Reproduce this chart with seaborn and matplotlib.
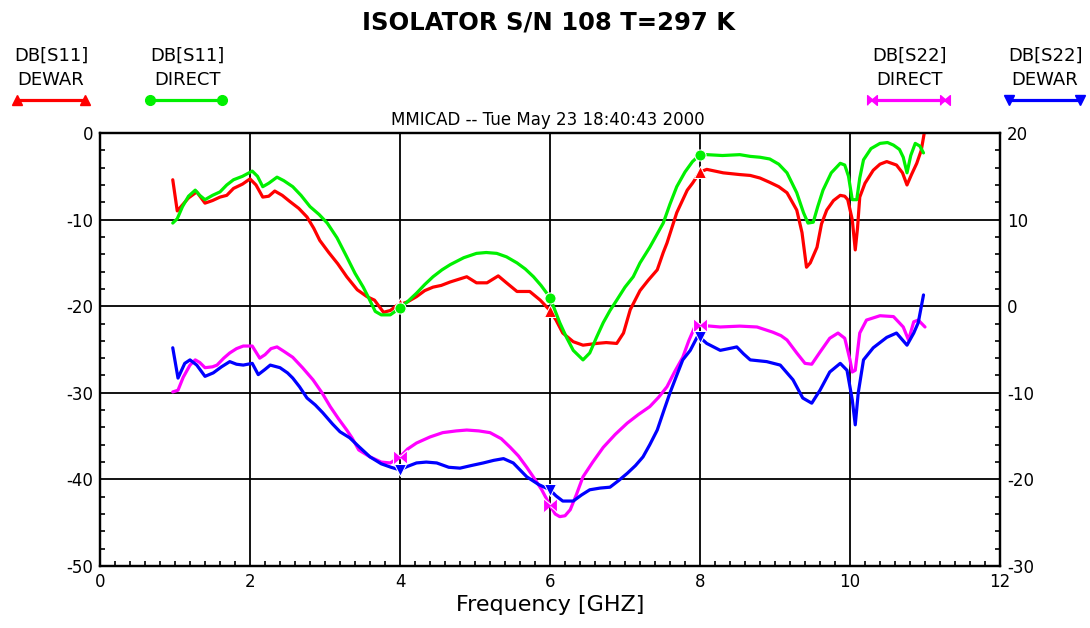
import numpy as np
import pandas as pd
import matplotlib
matplotlib.use("Agg")
import matplotlib.pyplot as plt
from matplotlib.lines import Line2D
from matplotlib.ticker import MultipleLocator
import seaborn as sns

# ---------------- data ----------------
s11_dewar_f = [0.97, 1.03, 1.1, 1.18, 1.29, 1.4, 1.5, 1.6, 1.69, 1.78, 1.9, 2.0, 2.08, 2.17, 2.25, 2.33,
               2.43, 2.53, 2.65, 2.76, 2.85, 2.93, 3.05, 3.17, 3.29, 3.43, 3.56, 3.66, 3.78, 3.87, 3.96, 4.0,
               4.1, 4.22, 4.33, 4.44, 4.55, 4.67, 4.78, 4.89, 5.02, 5.16, 5.31, 5.42, 5.56, 5.65, 5.73, 5.87,
               6.0, 6.08, 6.17, 6.31, 6.44, 6.62, 6.75, 6.89, 6.98, 7.07, 7.2, 7.31, 7.43, 7.51, 7.56, 7.69,
               7.83, 7.9, 8.0, 8.09, 8.2, 8.31, 8.53, 8.67, 8.8, 8.93, 9.05, 9.16, 9.29, 9.36, 9.42, 9.47,
               9.56, 9.62, 9.69, 9.78, 9.87, 9.93, 9.97, 10.03, 10.07, 10.1, 10.13, 10.2, 10.31, 10.4, 10.49,
               10.62, 10.7, 10.76, 10.82, 10.89, 10.95, 10.99]
s11_dewar_db = [-5.4, -9.0, -8.3, -7.5, -6.8, -8.1, -7.8, -7.4, -7.2, -6.4, -5.9, -5.3, -6.0, -7.4, -7.3, -6.7,
                -7.2, -7.9, -8.7, -9.7, -11.0, -12.4, -13.8, -15.1, -16.6, -18.1, -18.9, -19.3, -20.7, -20.5, -19.9, -19.8,
                -19.5, -18.9, -18.2, -17.8, -17.6, -17.2, -16.9, -16.6, -17.3, -17.3, -16.5, -17.3, -18.3, -18.3, -18.3, -19.3,
                -20.5, -21.6, -23.1, -24.1, -24.5, -24.3, -24.2, -24.3, -23.1, -20.4, -18.2, -17.0, -15.8, -13.8, -12.7, -9.2,
                -6.6, -5.8, -4.5, -4.2, -4.4, -4.6, -4.8, -4.9, -5.2, -5.7, -6.2, -6.9, -8.9, -11.5, -15.5, -15.0,
                -13.2, -10.5, -8.9, -7.8, -7.2, -7.3, -7.7, -10.0, -13.5, -11.0, -7.4, -5.8, -4.3, -3.6, -3.3,
                -3.7, -4.6, -6.0, -4.8, -3.5, -2.0, 0.0]

s11_direct_f = [0.97, 1.03, 1.1, 1.18, 1.27, 1.33, 1.4, 1.5, 1.6, 1.69, 1.78, 1.9, 2.03, 2.1, 2.17, 2.25,
                2.36, 2.45, 2.57, 2.68, 2.8, 2.92, 3.03, 3.16, 3.29, 3.4, 3.51, 3.58, 3.67, 3.75, 3.87, 4.0,
                4.11, 4.22, 4.33, 4.44, 4.56, 4.67, 4.85, 5.02, 5.15, 5.29, 5.42, 5.56, 5.67, 5.78, 5.88, 6.0,
                6.13, 6.22, 6.31, 6.44, 6.53, 6.62, 6.71, 6.8, 6.89, 7.0, 7.11, 7.2, 7.33, 7.42, 7.51, 7.6,
                7.69, 7.8, 7.9, 8.0, 8.09, 8.3, 8.53, 8.67, 8.8, 8.93, 9.05, 9.16, 9.29, 9.38, 9.44, 9.51,
                9.57, 9.64, 9.75, 9.87, 9.93, 9.98, 10.03, 10.09, 10.13, 10.18, 10.28, 10.4, 10.5, 10.58, 10.66,
                10.71, 10.76, 10.81, 10.87, 10.93, 10.98]
s11_direct_db = [-10.4, -9.9, -8.5, -7.3, -6.6, -7.2, -7.7, -7.2, -6.8, -6.0, -5.4, -5.0, -4.4, -5.0, -6.2, -5.8,
                 -5.1, -5.5, -6.2, -7.2, -8.5, -9.4, -10.4, -12.1, -14.3, -16.2, -17.8, -19.0, -20.6, -21.0, -21.0, -20.2,
                 -19.4, -18.5, -17.5, -16.6, -15.8, -15.2, -14.4, -13.9, -13.8, -13.9, -14.3, -15.0, -15.7, -16.6, -17.6, -19.0,
                 -21.9, -23.6, -25.1, -26.2, -25.4, -23.6, -21.9, -20.5, -19.3, -17.8, -16.6, -15.0, -13.2, -11.8, -10.4, -8.2,
                 -6.2, -4.5, -3.3, -2.5, -2.5, -2.6, -2.5, -2.7, -2.8, -3.0, -3.6, -4.6, -6.9, -9.2, -10.4, -10.3,
                 -8.5, -6.6, -4.6, -3.5, -3.7, -5.0, -7.7, -7.7, -5.2, -3.1, -1.8, -1.2, -1.1, -1.4, -1.9,
                 -2.8, -4.6, -2.6, -1.2, -1.5, -2.3]

# S22 traces, read on the right-hand scale
s22_direct_f = [0.97, 1.04, 1.11, 1.2, 1.27, 1.33, 1.4, 1.5, 1.56, 1.65, 1.73, 1.82, 1.91, 2.03, 2.08, 2.13,
                2.2, 2.28, 2.36, 2.45, 2.57, 2.7, 2.84, 2.96, 3.07, 3.18, 3.29, 3.36, 3.45, 3.6, 3.75, 3.87,
                4.0, 4.1, 4.22, 4.4, 4.57, 4.75, 4.89, 5.05, 5.2, 5.35, 5.47, 5.58, 5.69, 5.8, 5.89, 6.0,
                6.07, 6.13, 6.2, 6.27, 6.35, 6.44, 6.57, 6.71, 6.87, 7.03, 7.18, 7.33, 7.45, 7.56, 7.66, 7.77,
                7.85, 7.93, 8.0, 8.27, 8.53, 8.76, 8.97, 9.08, 9.16, 9.29, 9.4, 9.49, 9.6, 9.73, 9.84, 9.93,
                10.0, 10.03, 10.07, 10.13, 10.22, 10.4, 10.58, 10.71, 10.78, 10.85, 10.91, 11.0]
s22_direct_db = [-9.9, -9.7, -8.2, -6.8, -6.2, -6.5, -7.1, -7.0, -6.8, -6.0, -5.4, -4.9, -4.6, -4.6, -5.3, -6.0,
                 -5.6, -4.9, -4.7, -5.2, -5.9, -7.1, -8.5, -10.0, -11.6, -13.0, -14.3, -15.2, -16.6, -17.4, -18.0, -18.1,
                 -17.4, -16.5, -15.8, -15.1, -14.6, -14.4, -14.3, -14.4, -14.6, -15.3, -16.3, -17.3, -18.6, -20.0, -21.2, -23.0,
                 -24.0, -24.3, -24.2, -23.5, -21.8, -19.7, -18.0, -16.3, -14.8, -13.5, -12.5, -11.6, -10.5, -9.3, -7.6, -5.9,
                 -4.0, -2.4, -2.2, -2.4, -2.3, -2.4, -3.0, -3.4, -3.9, -5.4, -6.6, -6.7, -5.3, -3.7, -3.1, -3.7,
                 -6.2, -7.6, -7.4, -3.1, -1.6, -1.1, -1.2, -2.4, -3.9, -1.8, -1.6, -2.4]

s22_dewar_f = [0.97, 1.04, 1.13, 1.2, 1.29, 1.4, 1.51, 1.62, 1.73, 1.82, 1.91, 2.03, 2.11, 2.2, 2.27, 2.4,
               2.5, 2.57, 2.66, 2.76, 2.87, 2.97, 3.1, 3.2, 3.33, 3.45, 3.6, 3.75, 3.88, 4.0, 4.1, 4.22,
               4.35, 4.49, 4.65, 4.8, 4.95, 5.11, 5.25, 5.38, 5.51, 5.6, 5.69, 5.85, 6.0, 6.08, 6.17, 6.31,
               6.42, 6.53, 6.67, 6.8, 6.92, 7.03, 7.14, 7.24, 7.33, 7.43, 7.52, 7.6, 7.68, 7.77, 7.87, 7.96,
               8.0, 8.09, 8.27, 8.44, 8.49, 8.58, 8.67, 8.89, 9.07, 9.24, 9.37, 9.49, 9.6, 9.73, 9.87, 9.96,
               10.03, 10.07, 10.11, 10.18, 10.31, 10.49, 10.62, 10.76, 10.85, 10.91, 10.98]
s22_dewar_db = [-4.8, -8.3, -6.6, -6.2, -6.8, -8.1, -7.7, -7.0, -6.4, -6.7, -6.8, -6.6, -7.9, -7.3, -6.8, -7.1,
                -7.7, -8.3, -9.3, -10.6, -11.4, -12.3, -13.6, -14.5, -15.2, -16.2, -17.4, -18.2, -18.6, -18.9, -18.5, -18.1,
                -18.0, -18.1, -18.6, -18.7, -18.4, -18.1, -17.8, -17.6, -18.1, -18.9, -19.7, -20.6, -21.2, -21.9, -22.5, -22.5,
                -21.8, -21.2, -21.0, -20.9, -20.1, -19.3, -18.4, -17.4, -16.0, -14.3, -12.0, -10.0, -8.2, -6.2, -5.1, -3.6,
                -3.6, -4.3, -5.1, -4.8, -4.7, -5.5, -6.2, -6.4, -6.8, -8.5, -10.6, -11.2, -9.7, -7.6, -6.6, -7.4,
                -10.8, -13.7, -10.0, -6.2, -4.8, -3.6, -3.1, -4.5, -3.1, -1.9, 1.3]

left_ticks = [0, -10, -20, -30, -40, -50]
right_ticks = [20, 10, 0, -10, -20, -30]
x_ticks = [0, 2, 4, 6, 8, 10, 12]

title = "ISOLATOR S/N 108 T=297 K"
subtitle = "MMICAD -- Tue May 23 18:40:43 2000"
xlabel = "Frequency [GHZ]"

# ---------------- style ----------------
sns.set_style("white")
plt.rcParams["font.family"] = ["DejaVu Sans"]
plt.rcParams["axes.unicode_minus"] = False
plt.rcParams["text.color"] = "black"

W, H = 1090, 628
fig = plt.figure(figsize=(W / 100, H / 100), dpi=100)
ax = fig.add_axes([100 / W, 1 - 566 / H, 900 / W, 433 / H])
ax2 = ax.twinx()

RED, GREEN, MAG, BLUE = "#ff0000", "#00f000", "#ff00ff", "#0000ff"
bowtie = [(-1, -1), (-1, 1), (0, 0.15), (1, 1), (1, -1), (0, -0.15)]


def marks(f):
    return [i for i, v in enumerate(f) if v in (4.0, 6.0, 8.0)]


lw = 2.3
sns.lineplot(x=s11_dewar_f, y=s11_dewar_db, ax=ax, color=RED, lw=lw, sort=False,
             estimator=None, marker="^", markersize=9, markevery=marks(s11_dewar_f), zorder=3)
sns.lineplot(x=s11_direct_f, y=s11_direct_db, ax=ax, color=GREEN, lw=lw, sort=False,
             estimator=None, marker="o", markersize=8, markevery=marks(s11_direct_f), zorder=3)
sns.lineplot(x=s22_direct_f, y=s22_direct_db, ax=ax2, color=MAG, lw=lw, sort=False,
             estimator=None, marker=bowtie, markersize=10, markevery=marks(s22_direct_f), zorder=3)
sns.lineplot(x=s22_dewar_f, y=s22_dewar_db, ax=ax2, color=BLUE, lw=lw, sort=False,
             estimator=None, marker="v", markersize=9, markevery=marks(s22_dewar_f), zorder=3)

ax.set_xlim(0, 12)
ax.set_ylim(-50, 0)
ax2.set_ylim(-30, 20)
ax.set_xticks(x_ticks)
ax.set_yticks(left_ticks)
ax2.set_yticks(right_ticks)
ax.xaxis.set_minor_locator(MultipleLocator(0.2))
ax.yaxis.set_minor_locator(MultipleLocator(2))
ax2.yaxis.set_minor_locator(MultipleLocator(2))

ax.grid(True, which="major", color="black", lw=1.3)
ax.grid(False, which="minor")
ax2.grid(False, which="both")
for a in (ax, ax2):
    for s in a.spines.values():
        s.set_color("black")
        s.set_linewidth(1.6)
        s.set_visible(True)

FS = 12
ax.tick_params(axis="both", which="major", length=0, pad=5, labelsize=FS, labelcolor="black")
ax.tick_params(axis="both", which="minor", length=3.8, width=1.2, direction="in", color="black",
               top=False, right=False, bottom=True, left=True)
ax2.tick_params(axis="x", which="both", top=False, bottom=False)
ax2.tick_params(axis="y", which="major", length=0, pad=5, labelsize=FS, labelcolor="black")
ax2.tick_params(axis="y", which="minor", length=3.8, width=1.2, direction="in", color="black",
                left=False, right=True)

ax.set_xlabel(xlabel, fontsize=16, color="black", labelpad=3)
ax.set_ylabel("")
ax2.set_ylabel("")
ax.set_facecolor("white")
ax2.patch.set_visible(False)

fig.text(548 / W, 1 - 22 / H, title, ha="center", va="center", fontsize=17.5, fontweight="bold",
         color="black")
fig.text(548 / W, 1 - 120 / H, subtitle, ha="center", va="center", fontsize=12, color="black")

# legend entries above the plot
legend = [("DB[S11]", "DEWAR", RED, "^", 51, 17, 85),
          ("DB[S11]", "DIRECT", GREEN, "o", 187, 150, 222),
          ("DB[S22]", "DIRECT", MAG, bowtie, 909, 872, 945),
          ("DB[S22]", "DEWAR", BLUE, "v", 1045, 1009, 1080)]
for l1, l2, c, m, cx, x0, x1 in legend:
    fig.text(cx / W, 1 - 56 / H, l1, ha="center", va="center", fontsize=13, color="black")
    fig.text(cx / W, 1 - 80 / H, l2, ha="center", va="center", fontsize=13, color="black")
    fig.add_artist(Line2D([x0 / W, x1 / W], [1 - 100 / H, 1 - 100 / H], color=c, lw=2.3,
                          marker=m, markersize=7, transform=fig.transFigure))

fig.savefig("out.png", dpi=100, facecolor="white")
